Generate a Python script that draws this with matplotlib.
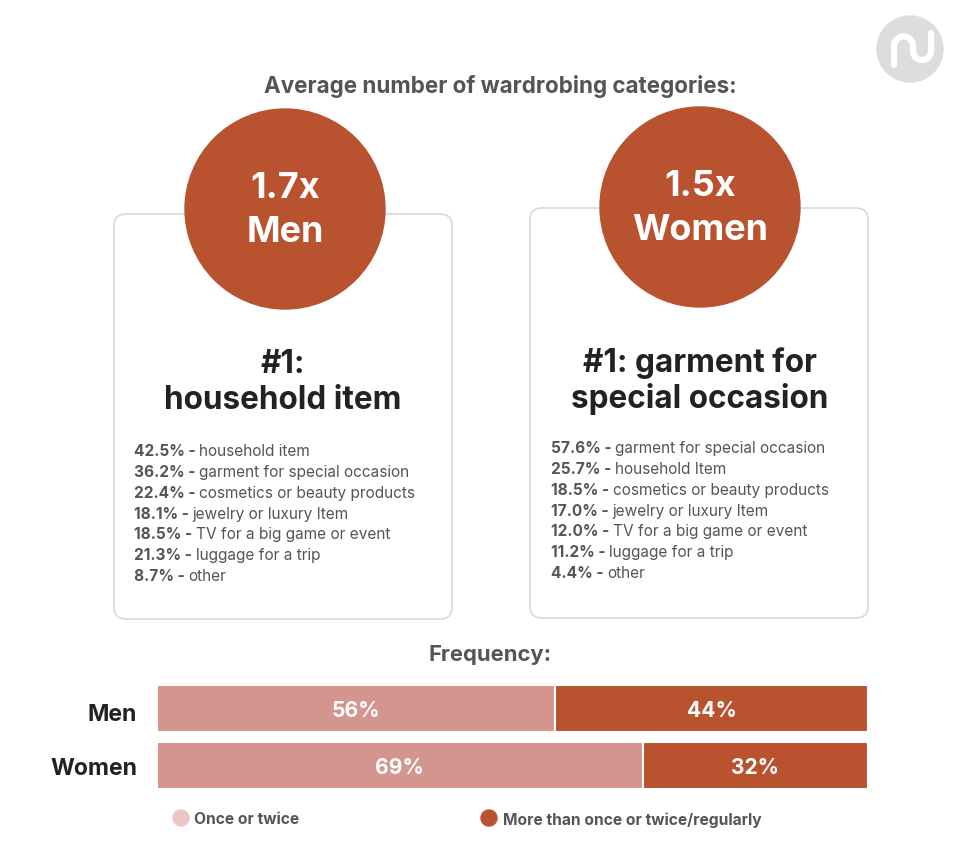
import matplotlib
matplotlib.use("Agg")
import matplotlib.pyplot as plt
from matplotlib.patches import Circle, FancyBboxPatch
import numpy as np

plt.rcParams['font.family'] = ['Inter', 'DejaVu Sans']

# data
title = "Average number of wardrobing categories:"
groups = ["Men", "Women"]
multipliers = ["1.7x", "1.5x"]
top_category = ["#1:\nhousehold item", "#1: garment for\nspecial occasion"]

men_labels = ["household item", "garment for special occasion",
              "cosmetics or beauty products", "jewelry or luxury Item",
              "TV for a big game or event", "luggage for a trip", "other"]
men_pct = [42.5, 36.2, 22.4, 18.1, 18.5, 21.3, 8.7]
women_labels = ["garment for special occasion", "household Item",
                "cosmetics or beauty products", "jewelry or luxury Item",
                "TV for a big game or event", "luggage for a trip", "other"]
women_pct = [57.6, 25.7, 18.5, 17.0, 12.0, 11.2, 4.4]

freq_title = "Frequency:"
freq_series = ["Once or twice", "More than once or twice/regularly"]
once_twice = [56, 69]
more_often = [44, 32]

DARK = "#b9532f"
PINK = "#d4958e"
PINK_LIGHT = "#ebc6c3"
GRAY = "#555555"
INK = "#222222"

W, H = 960, 845
fig = plt.figure(figsize=(W / 100, H / 100), dpi=100)
ax = fig.add_axes([0, 0, 1, 1])
ax.set_xlim(0, W)
ax.set_ylim(H, 0)
ax.axis("off")

def px(v):
    return v * 72 / 100

# logo
ax.add_patch(Circle((910, 50), 33, color="#dddddd", zorder=1))
t = np.linspace(np.pi, 0, 40)
lx = np.concatenate([[894], 903.5 + 9.5 * np.cos(t), 922 + 9 * np.cos(t), [931]])
ly = np.concatenate([[66], 47 - 9.5 * np.sin(t), 52 + 9 * np.sin(t), [34]])
ax.plot(lx, ly, color="white", lw=4.5, solid_capstyle="round", zorder=2)

ax.text(500, 87, title, ha="center", va="center", fontsize=px(22.4),
        fontweight="bold", color=GRAY)

cards = [(114, 215, 338, 405, 285, 210, 283, 365, 134, 452),
         (530, 209, 338, 410, 700, 208, 700, 363, 551, 449)]
lists = [(men_pct, men_labels), (women_pct, women_labels)]

for i, (cx0, cy0, cw, ch, ccx, ccy, hx, hy, lx0, ly0) in enumerate(cards):
    ax.add_patch(FancyBboxPatch((cx0, cy0), cw, ch,
                                boxstyle="round,pad=0,rounding_size=12",
                                fc="white", ec="#d9d9d9", lw=1.2, zorder=1))
    ax.add_patch(Circle((ccx, ccy), 100, color=DARK, zorder=3))
    ax.text(ccx, ccy - 21, multipliers[i], ha="center", va="center",
            fontsize=px(36), fontweight="bold", color="white", zorder=4)
    ax.text(ccx, ccy + 23, groups[i], ha="center", va="center",
            fontsize=px(36), fontweight="bold", color="white", zorder=4)
    for n, line in enumerate(top_category[i].split("\n")):
        ax.text(hx, hy + n * 36, line, ha="center", va="center",
                fontsize=px(31.5), fontweight="bold", color=INK)
    pcts, labels = lists[i]
    for j, (p, lab) in enumerate(zip(pcts, labels)):
        y = ly0 + j * 20.7
        b = ax.text(lx0, y, f"{p:.1f}% - ", ha="left", va="center",
                    fontsize=px(15.4), fontweight="bold", color=GRAY)
        ax.annotate(lab, xy=(1, 0), xycoords=b, ha="left", va="bottom",
                    fontsize=px(15.4), color=GRAY)

ax.text(490, 655, freq_title, ha="center", va="center", fontsize=px(22),
        fontweight="bold", color=GRAY)

# frequency bars
bx = fig.add_axes([157 / W, 1 - 790 / H, 711 / W, 104 / H])
bx.set_xlim(0, 100)
bx.set_ylim(1.4123, -0.4123)
bx.axis("off")
ypos = np.arange(len(groups))
tot = np.array(once_twice) + np.array(more_often)
s1 = np.array(once_twice) / tot * 100
s2 = np.array(more_often) / tot * 100
bx.barh(ypos, s1, height=0.825, color=PINK, edgecolor="white", lw=1.5)
bx.barh(ypos, s2, left=s1, height=0.825, color=DARK, edgecolor="white", lw=1.5)
for k in range(len(groups)):
    bx.text(s1[k] / 2, ypos[k] + 0.03, f"{once_twice[k]}%", ha="center",
            va="center", fontsize=px(21), fontweight="bold", color="white")
    bx.text(s1[k] + s2[k] / 2, ypos[k] + 0.03, f"{more_often[k]}%",
            ha="center", va="center", fontsize=px(21), fontweight="bold",
            color="white")

ax.text(137, 715, groups[0], ha="right", va="center", fontsize=px(23),
        fontweight="bold", color=INK)
ax.text(137, 769, groups[1], ha="right", va="center", fontsize=px(23),
        fontweight="bold", color=INK)

# legend
ax.add_patch(Circle((181, 819), 8, color=PINK_LIGHT))
ax.text(194, 820, freq_series[0], ha="left", va="center", fontsize=px(15.6),
        fontweight="bold", color=GRAY)
ax.add_patch(Circle((489, 819), 8, color=DARK))
ax.text(503, 820, freq_series[1], ha="left", va="center", fontsize=px(15.6),
        fontweight="bold", color=GRAY)

fig.savefig("out.png", dpi=100, facecolor="white")
